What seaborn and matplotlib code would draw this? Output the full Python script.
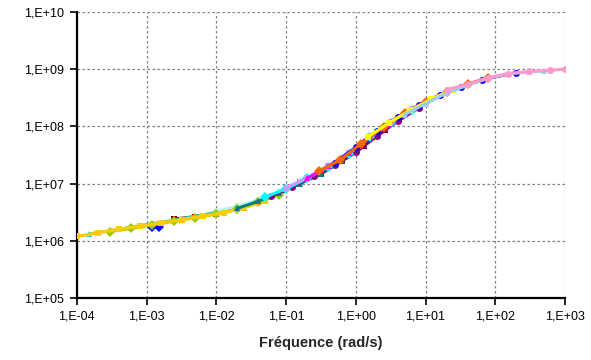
import numpy as np
import pandas as pd
import matplotlib
matplotlib.use("Agg")
import matplotlib.pyplot as plt
import seaborn as sns
from matplotlib.ticker import FuncFormatter, NullLocator

# master curve, one series per temperature (frequency in rad/s, modulus)
freq_pink = [20, 40, 80, 150, 300, 600, 1000]
mod_pink = [4.4e8, 5.4e8, 7.1e8, 8.3e8, 9.1e8, 9.5e8, 1.0e9]

freq_lightblue = [5, 10, 20, 40, 80, 160, 300, 500]
mod_lightblue = [1.6e8, 2.5e8, 3.8e8, 5.2e8, 6.9e8, 8.3e8, 8.9e8, 9.3e8]

freq_blue = [0.5, 1, 2, 4, 8, 16, 32, 64, 200]
mod_blue = [2.3e7, 4.3e7, 8.3e7, 1.45e8, 2.35e8, 3.5e8, 4.8e8, 6.5e8, 8.7e8]

freq_orange = [0.3, 0.6, 1.2, 2.5, 5, 10, 20, 40, 80]
mod_orange = [1.65e7, 2.6e7, 5.0e7, 9.8e7, 1.7e8, 2.7e8, 4.0e8, 5.5e8, 7.1e8]

freq_magenta = [0.2, 0.4, 0.8, 1.6, 3, 6, 12, 25]
mod_magenta = [1.23e7, 2.0e7, 3.4e7, 6.6e7, 1.12e8, 1.9e8, 2.95e8, 4.3e8]

freq_yellow = [1.5, 3, 6, 12, 25]
mod_yellow = [6.6e7, 1.15e8, 1.9e8, 2.95e8, 4.4e8]

freq_cyan = [0.05, 0.1, 0.2, 0.4, 0.8, 1.6, 3.2, 6.4]
mod_cyan = [5.8e6, 8.1e6, 1.23e7, 1.95e7, 3.3e7, 6.5e7, 1.15e8, 1.95e8]

freq_lavender = [0.1, 0.2, 0.4, 0.8, 1.6, 3.2, 6.4, 12]
mod_lavender = [8.5e6, 1.26e7, 2.0e7, 3.4e7, 6.8e7, 1.18e8, 2.0e8, 2.95e8]

freq_purple = [0.06, 0.12, 0.25, 0.5, 1, 2, 4, 8]
mod_purple = [6.0e6, 8.7e6, 1.35e7, 2.1e7, 3.5e7, 6.8e7, 1.23e8, 2.1e8]

freq_darkred = [0.0025, 0.005, 0.01, 0.02, 0.04, 0.08, 0.16, 0.32, 0.64, 1.3, 2.6]
mod_darkred = [2.4e6, 2.65e6, 3.0e6, 3.7e6, 4.8e6, 6.6e6, 1.05e7, 1.5e7, 2.5e7, 4.6e7, 8.5e7]

freq_teal = [0.02, 0.04, 0.08, 0.16, 0.32, 0.64, 1.3, 2.6, 5]
mod_teal = [3.7e6, 4.9e6, 6.9e6, 1.0e7, 1.5e7, 2.5e7, 4.8e7, 9.1e7, 1.55e8]

freq_turquoise = [1.5e-4, 3e-4, 6e-4, 1.2e-3, 2.5e-3, 5e-3, 0.01, 0.02, 0.04, 0.08, 0.16]
mod_turquoise = [1.32e6, 1.5e6, 1.74e6, 2.0e6, 2.3e6, 2.7e6, 3.15e6, 3.9e6, 5.0e6, 6.9e6, 1.05e7]

freq_yellowgreen = [3e-4, 6e-4, 1.2e-3, 2.5e-3, 5e-3, 0.01, 0.02, 0.04, 0.08]
mod_yellowgreen = [1.45e6, 1.65e6, 1.9e6, 2.2e6, 2.55e6, 2.95e6, 3.6e6, 4.7e6, 6.4e6]

freq_gold = [1e-4, 2e-4, 4e-4, 8e-4, 1.6e-3, 3.2e-3, 6.4e-3, 0.013, 0.025, 0.05]
mod_gold = [1.2e6, 1.38e6, 1.6e6, 1.8e6, 2.05e6, 2.35e6, 2.7e6, 3.1e6, 3.8e6, 4.9e6]

freq_paleturq = [0.01, 0.02, 0.04, 0.08, 0.16, 0.32, 0.64, 1.3]
mod_paleturq = [3.3e6, 4.0e6, 5.2e6, 7.4e6, 1.1e7, 1.75e7, 2.9e7, 5.4e7]

freq_royal = [1.2e-3, 1.5e-3]
mod_royal = [1.72e6, 1.78e6]

series = {
    "royal": (freq_royal, mod_royal),
    "darkred": (freq_darkred, mod_darkred),
    "turquoise": (freq_turquoise, mod_turquoise),
    "paleturq": (freq_paleturq, mod_paleturq),
    "yellowgreen": (freq_yellowgreen, mod_yellowgreen),
    "gold": (freq_gold, mod_gold),
    "teal": (freq_teal, mod_teal),
    "purple": (freq_purple, mod_purple),
    "cyan": (freq_cyan, mod_cyan),
    "lavender": (freq_lavender, mod_lavender),
    "magenta": (freq_magenta, mod_magenta),
    "blue": (freq_blue, mod_blue),
    "orange": (freq_orange, mod_orange),
    "yellow": (freq_yellow, mod_yellow),
    "lightblue": (freq_lightblue, mod_lightblue),
    "pink": (freq_pink, mod_pink),
}
colors = {
    "gold": "#FFCC00", "yellowgreen": "#99CC00", "turquoise": "#33CCCC",
    "royal": "#0000FF", "darkred": "#800000", "paleturq": "#B8F4F0",
    "teal": "#008080", "cyan": "#00FFFF", "purple": "#800080",
    "lavender": "#CC99FF", "magenta": "#FF00FF", "orange": "#FF6600",
    "yellow": "#FFFF00", "blue": "#0000FF", "lightblue": "#99CCFF",
    "pink": "#FF99CC",
}
marker_cycle = ["D", "s", "^", "o"]

x_ticks = [1e-4, 1e-3, 1e-2, 1e-1, 1e0, 1e1, 1e2, 1e3]
y_ticks = [1e5, 1e6, 1e7, 1e8, 1e9, 1e10]

df = pd.concat(
    [pd.DataFrame({"freq": f, "mod": m, "serie": name}) for name, (f, m) in series.items()],
    ignore_index=True,
)

sns.set_style("ticks")
plt.rcParams["font.family"] = ["Liberation Sans", "DejaVu Sans"]

fig = plt.figure(figsize=(5.91, 3.6), dpi=100)
ax = fig.add_axes([0.130, 0.172, 0.826, 0.795])

names = list(series.keys())
sns.lineplot(
    data=df, x="freq", y="mod", hue="serie", style="serie",
    hue_order=names, style_order=names, palette=colors,
    markers={n: marker_cycle[i % 4] for i, n in enumerate(names)},
    dashes=False, markersize=5, markeredgewidth=0, linewidth=2.2,
    legend=False, ax=ax, zorder=3,
)

ax.set_xscale("log")
ax.set_yscale("log")
ax.set_xticks(x_ticks)
ax.set_yticks(y_ticks)
ax.set_xlim(x_ticks[0], x_ticks[-1])
ax.set_ylim(y_ticks[0], y_ticks[-1])

fmt = FuncFormatter(lambda v, p: f"1,E{int(round(np.log10(v))):+03d}")
for axis in (ax.xaxis, ax.yaxis):
    axis.set_minor_locator(NullLocator())
    axis.set_major_formatter(fmt)

ax.grid(True, color="#808080", linestyle=(0, (2, 2)), linewidth=0.9)
ax.set_axisbelow(True)
for side in ("top", "right"):
    ax.spines[side].set_visible(False)
for side in ("left", "bottom"):
    ax.spines[side].set_linewidth(1.6)
    ax.spines[side].set_color("black")
ax.tick_params(axis="both", direction="out", length=5, width=1.2,
               colors="black", labelsize=9, pad=4)

ax.set_xlabel("Fréquence (rad/s)", fontsize=10.5, fontweight="bold", labelpad=10)
ax.set_ylabel("")

fig.savefig("out.png", dpi=100)
